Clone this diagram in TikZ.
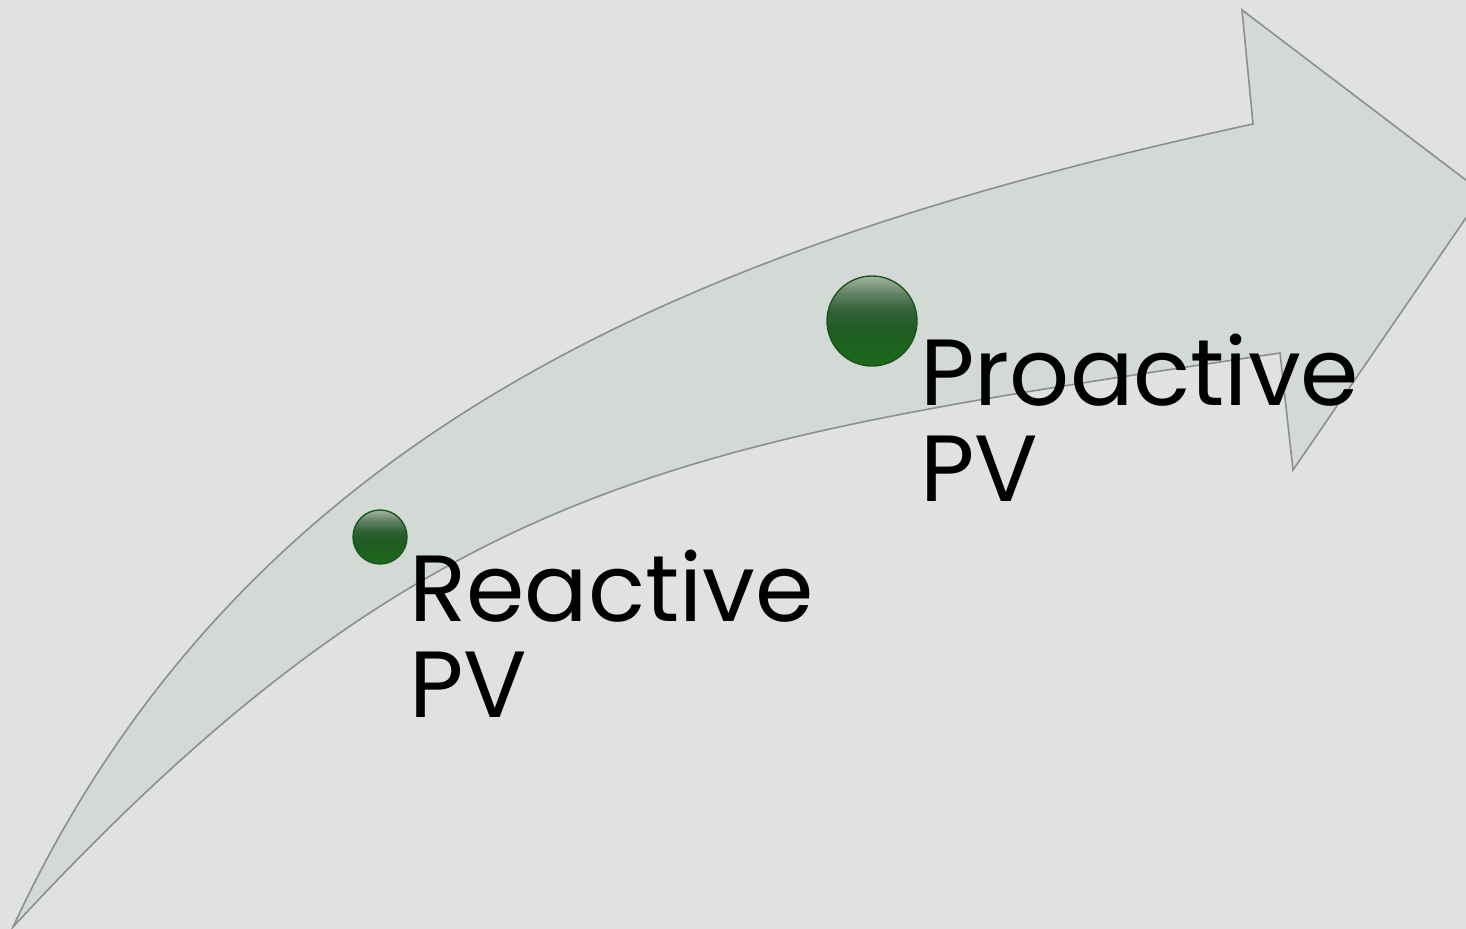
\documentclass[tikz,border=0pt]{standalone}
\usepackage{fontspec}
\setmainfont{Poppins}
\definecolor{bg}{HTML}{E1E1E1}
\definecolor{arrowfill}{HTML}{D3D9D5}
\definecolor{arrowline}{HTML}{8A908C}
\definecolor{ballline}{HTML}{1D531D}
\definecolor{gbot}{HTML}{1C6A1E}
\definecolor{gdark}{HTML}{1F5C22}
\definecolor{gmid}{HTML}{2F6035}
\definecolor{glight}{HTML}{5F8063}
\definecolor{gtop}{HTML}{A3B6A3}
\pgfdeclareverticalshading{ballshade}{100bp}{color(0bp)=(gbot); color(25bp)=(gbot); color(45bp)=(gdark); color(55bp)=(gmid); color(65bp)=(glight); color(75bp)=(gtop); color(100bp)=(gtop)}
\begin{document}
\begin{tikzpicture}[x=0.5pt,y=-0.5pt,
  arrowshape/.style={fill=arrowfill,draw=arrowline,line width=0.8pt,line join=miter},
  ball/.style={circle,draw=ballline,line width=0.7pt,shading=ballshade,inner sep=0pt},
  lbl/.style={font=\fontsize{47}{48}\selectfont,align=left,inner sep=0pt,anchor=base west,text=black}]
\fill[bg] (0,0) rectangle (1466,929);
\useasboundingbox (0,0) rectangle (1466,929);
\coordinate (tail) at (13,927);
\coordinate (shafttop) at (1253,124);
\coordinate (barbtop) at (1242,10);
\coordinate (tip) at (1483,193);
\coordinate (barbbot) at (1293,470);
\coordinate (shaftbot) at (1280,353);
\begin{scope}
\clip (0,0) rectangle (1466,929);
\draw[arrowshape] (tail) .. controls (248,419) and (716,241) .. (shafttop) -- (barbtop) -- (tip) -- (barbbot) -- (shaftbot) .. controls (687,442) and (434,472) .. (tail) -- cycle;
\end{scope}
\node[ball,minimum size=27pt] (b1) at (380,537) {};
\node[ball,minimum size=45pt] (b2) at (872,321) {};
\node[lbl] (t1) at (409,718) {Reactive\\PV};
\node[lbl] (t2) at (920,502) {Proactive\\PV};
\end{tikzpicture}
\end{document}
